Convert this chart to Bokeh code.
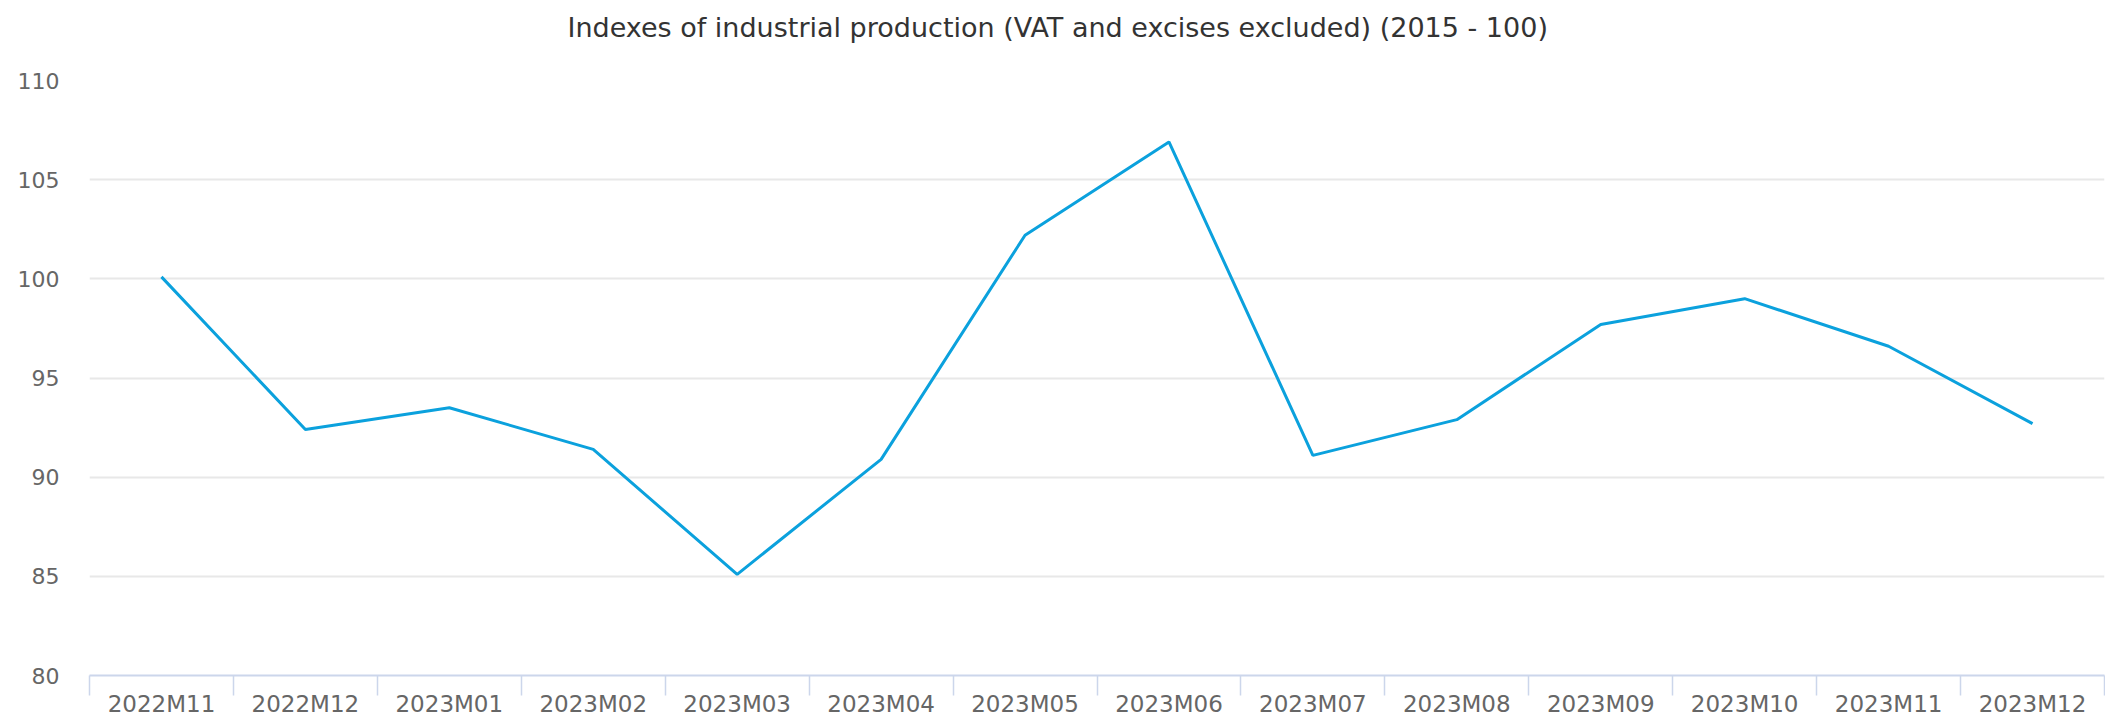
from bokeh.plotting import figure
from bokeh.models import Range1d, FixedTicker, Title
from bokeh.embed import file_html
from bokeh.resources import INLINE

months = ["2022M11", "2022M12", "2023M01", "2023M02", "2023M03", "2023M04", "2023M05",
          "2023M06", "2023M07", "2023M08", "2023M09", "2023M10", "2023M11", "2023M12"]
values = [100.1, 92.4, 93.5, 91.4, 85.1, 90.9, 102.2, 106.9, 91.1, 92.9, 97.7, 99.0, 96.6, 92.7]
y_ticks = [80, 85, 90, 95, 100, 105, 110]
title_text = "Indexes of industrial production (VAT and excises excluded) (2015 - 100)"

xs = [i + 0.5 for i in range(len(months))]

p = figure(width=2105, height=720,
           x_range=Range1d(0, len(months)), y_range=Range1d(80, 110),
           output_backend="svg", toolbar_location=None,
           min_border_left=89, min_border_right=1, min_border_top=80, min_border_bottom=45)

p.title.text = title_text
p.title.align = "left"
p.title.offset = 478
p.title.vertical_align = "top"
p.title.standoff = 23
p.title.text_font = "DejaVu Sans"
p.title.text_font_size = "27px"
p.title.text_font_style = "normal"
p.title.text_color = "#333333"

# spacer between title and plot frame
p.add_layout(Title(text=" ", text_font_size="1px", standoff=21), "above")

p.line(xs, values, line_color="#0ba1dd", line_width=3)

p.outline_line_color = None
p.background_fill_color = "white"
p.border_fill_color = "white"

# x axis
xa = p.xaxis[0]
xa.ticker = FixedTicker(ticks=xs, minor_ticks=list(range(len(months) + 1)))
xa.major_label_overrides = {x: m for x, m in zip(xs, months)}
xa.major_tick_out = 0
xa.major_tick_in = 0
xa.minor_tick_out = 20
xa.minor_tick_in = 0
xa.minor_tick_line_color = "#ccd6eb"
xa.minor_tick_line_width = 1.5
xa.axis_line_color = "#ccd6eb"
xa.axis_line_width = 2
xa.major_label_standoff = -5
xa.major_label_text_font = "DejaVu Sans"
xa.major_label_text_font_size = "23px"
xa.major_label_text_color = "#666666"

# y axis
ya = p.yaxis[0]
ya.ticker = FixedTicker(ticks=y_ticks)
ya.axis_line_color = None
ya.major_tick_line_color = None
ya.minor_tick_line_color = None
ya.major_label_standoff = 24
ya.major_label_text_font = "DejaVu Sans"
ya.major_label_text_font_size = "22px"
ya.major_label_text_color = "#666666"

p.xgrid.grid_line_color = None
p.ygrid.ticker = FixedTicker(ticks=y_ticks)
p.ygrid.grid_line_color = "#e8e8e8"
p.ygrid.grid_line_width = 2

open("out.html", "w").write(file_html(p, INLINE))
